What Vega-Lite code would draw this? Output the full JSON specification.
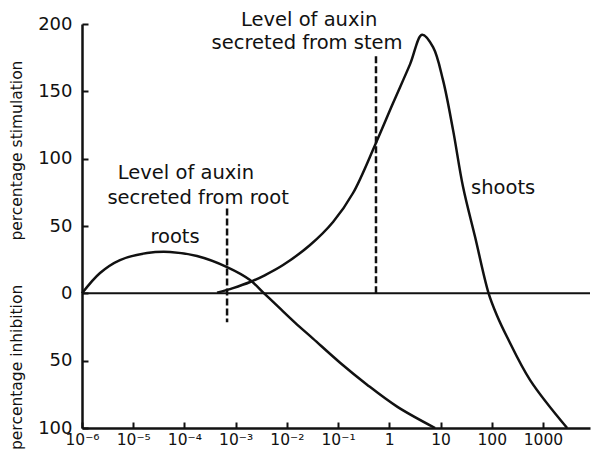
{
  "$schema": "https://vega.github.io/schema/vega-lite/v6.json",
  "width": 508,
  "height": 404,
  "autosize": {"type": "none"},
  "padding": {"left": 82, "top": 24, "right": 1, "bottom": 26},
  "background": "white",
  "config": {"view": {"stroke": null}, "font": "DejaVu Sans"},
  "datasets": {
    "curves": [
      {"series": "roots", "conc": 0.000001, "pct": 0},
      {"series": "roots", "conc": 0.00000225, "pct": 15.1},
      {"series": "roots", "conc": 0.00000552, "pct": 24.7},
      {"series": "roots", "conc": 0.0000186, "pct": 29.9},
      {"series": "roots", "conc": 0.0000524, "pct": 30.7},
      {"series": "roots", "conc": 0.000176, "pct": 27.7},
      {"series": "roots", "conc": 0.000679, "pct": 19.5},
      {"series": "roots", "conc": 0.00191, "pct": 9.9},
      {"series": "roots", "conc": 0.00359, "pct": 0},
      {"series": "roots", "conc": 0.00676, "pct": -9.9},
      {"series": "roots", "conc": 0.0144, "pct": -21.7},
      {"series": "roots", "conc": 0.0324, "pct": -33.6},
      {"series": "roots", "conc": 0.1094, "pct": -51.5},
      {"series": "roots", "conc": 0.368, "pct": -67.8},
      {"series": "roots", "conc": 1.42, "pct": -84.1},
      {"series": "roots", "conc": 7.85, "pct": -100},
      {"series": "shoots", "conc": 0.000434, "pct": 0.5},
      {"series": "shoots", "conc": 0.000889, "pct": 3.9},
      {"series": "shoots", "conc": 0.00192, "pct": 8.4},
      {"series": "shoots", "conc": 0.00378, "pct": 13.6},
      {"series": "shoots", "conc": 0.00843, "pct": 21.0},
      {"series": "shoots", "conc": 0.0284, "pct": 35.9},
      {"series": "shoots", "conc": 0.0798, "pct": 53.0},
      {"series": "shoots", "conc": 0.196, "pct": 74.5},
      {"series": "shoots", "conc": 0.528, "pct": 110.2},
      {"series": "shoots", "conc": 1.186, "pct": 141.3},
      {"series": "shoots", "conc": 2.55, "pct": 170.2},
      {"series": "shoots", "conc": 4.37, "pct": 192},
      {"series": "shoots", "conc": 7.16, "pct": 182.8},
      {"series": "shoots", "conc": 11.2, "pct": 158.3},
      {"series": "shoots", "conc": 17.6, "pct": 121.2},
      {"series": "shoots", "conc": 27.6, "pct": 78.9},
      {"series": "shoots", "conc": 47.4, "pct": 41.8},
      {"series": "shoots", "conc": 87, "pct": 0},
      {"series": "shoots", "conc": 126, "pct": -16.2},
      {"series": "shoots", "conc": 199.5, "pct": -32.4},
      {"series": "shoots", "conc": 562, "pct": -64.4},
      {"series": "shoots", "conc": 2972, "pct": -100}
    ],
    "levels": [
      {"source": "root", "conc": 0.00068, "top": 63, "bottom": -21.5},
      {"source": "stem", "conc": 0.55, "top": 176, "bottom": 0}
    ],
    "labels": [
      {"label": "Level of auxin", "conc": 0.000107, "pct": 89.3},
      {"label": "secreted from root", "conc": 0.000185, "pct": 70.7},
      {"label": "roots", "conc": 0.0000655, "pct": 41.8},
      {"label": "Level of auxin", "conc": 0.0272, "pct": 202.9},
      {"label": "secreted from stem", "conc": 0.0248, "pct": 185.8},
      {"label": "shoots", "conc": 167, "pct": 78.2}
    ],
    "titles": [
      {"label": "percentage stimulation", "conc": 0.000001, "pct": 106},
      {"label": "percentage inhibition", "conc": 0.000001, "pct": -55}
    ]
  },
  "layer": [
    {
      "data": {"name": "curves"},
      "mark": {"type": "line", "interpolate": "catmull-rom", "strokeWidth": 2.5, "color": "#111"},
      "encoding": {
        "x": {
          "field": "conc", "type": "quantitative",
          "scale": {"type": "log", "domain": [0.000001, 8300], "nice": false},
          "axis": {
            "values": [0.000001, 0.00001, 0.0001, 0.001, 0.01, 0.1, 1, 10, 100, 1000],
            "title": null, "grid": false,
            "tickSize": -6, "tickWidth": 2, "tickColor": "#111",
            "domainWidth": 2.5, "domainColor": "#111",
            "labelPadding": 10, "labelFontSize": 15.5, "labelColor": "#111",
            "labelFlush": false, "labelOverlap": false,
            "labelExpr": "datum.value >= 1 ? format(datum.value, 'd') : '10⁻' + ['','¹','²','³','⁴','⁵','⁶'][round(-log(datum.value)/LN10)]"
          }
        },
        "y": {
          "field": "pct", "type": "quantitative",
          "scale": {"domain": [-100, 200], "nice": false, "zero": false},
          "axis": {
            "values": [-100, -50, 0, 50, 100, 150, 200],
            "title": null, "grid": false,
            "tickSize": -6, "tickWidth": 2, "tickColor": "#111",
            "domainWidth": 2.5, "domainColor": "#111",
            "labelPadding": 16, "labelFontSize": 18, "labelColor": "#111",
            "labelFlush": false, "labelOverlap": false,
            "labelExpr": "'' + abs(datum.value)"
          }
        },
        "detail": {"field": "series"}
      }
    },
    {
      "data": {"values": [{"zero": 0}]},
      "mark": {"type": "rule", "strokeWidth": 2, "color": "#111"},
      "encoding": {
        "y": {"field": "zero", "type": "quantitative", "scale": {"domain": [-100, 200], "nice": false, "zero": false}}
      }
    },
    {
      "data": {"name": "levels"},
      "mark": {"type": "rule", "strokeWidth": 2.5, "color": "#111", "strokeDash": [7, 3]},
      "encoding": {
        "x": {"field": "conc", "type": "quantitative", "scale": {"type": "log", "domain": [0.000001, 8300], "nice": false}},
        "y": {"field": "top", "type": "quantitative", "scale": {"domain": [-100, 200], "nice": false, "zero": false}},
        "y2": {"field": "bottom"}
      }
    },
    {
      "data": {"name": "labels"},
      "mark": {"type": "text", "fontSize": 19.5, "color": "#111", "align": "center", "baseline": "middle"},
      "encoding": {
        "x": {"field": "conc", "type": "quantitative", "scale": {"type": "log", "domain": [0.000001, 8300], "nice": false}},
        "y": {"field": "pct", "type": "quantitative", "scale": {"domain": [-100, 200], "nice": false, "zero": false}},
        "text": {"field": "label"}
      }
    },
    {
      "data": {"name": "titles"},
      "mark": {"type": "text", "fontSize": 15.5, "color": "#111", "align": "center", "baseline": "middle", "angle": 270, "dy": -65},
      "encoding": {
        "x": {"field": "conc", "type": "quantitative", "scale": {"type": "log", "domain": [0.000001, 8300], "nice": false}},
        "y": {"field": "pct", "type": "quantitative", "scale": {"domain": [-100, 200], "nice": false, "zero": false}},
        "text": {"field": "label"}
      }
    }
  ]
}
